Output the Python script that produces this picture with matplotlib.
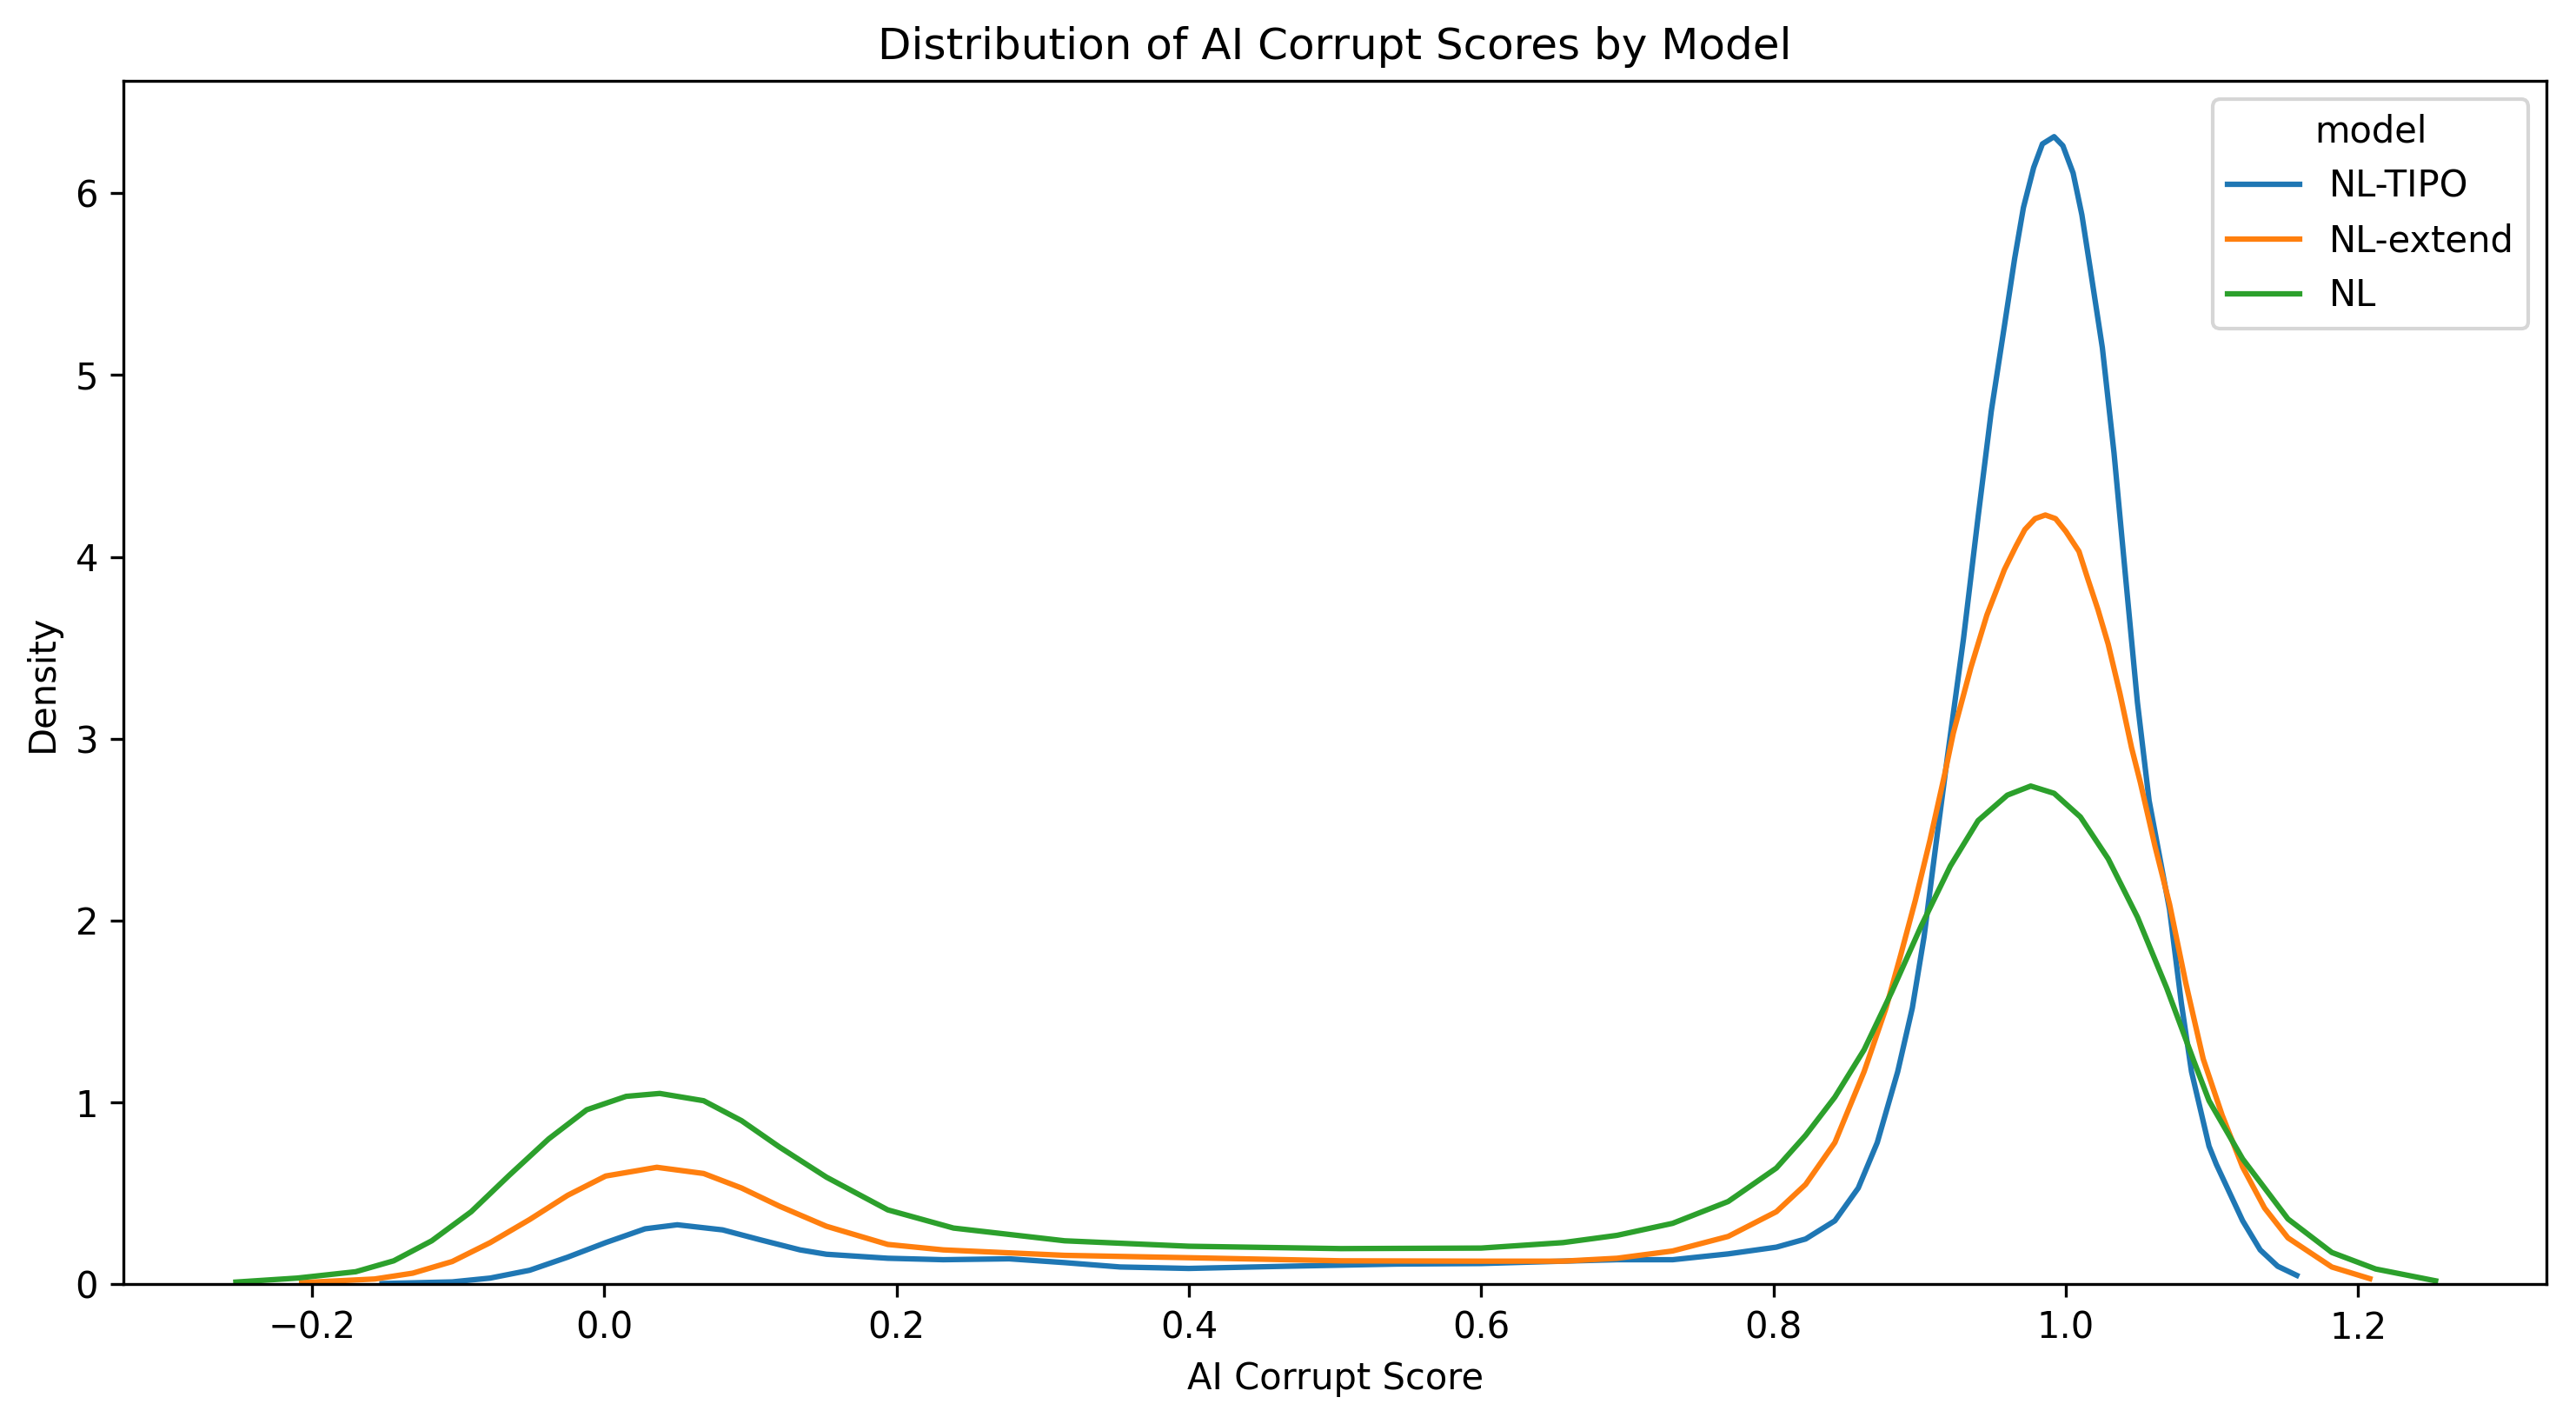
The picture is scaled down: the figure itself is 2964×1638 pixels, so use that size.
import numpy as np
import matplotlib.pyplot as plt

# density values
models = ["NL-TIPO", "NL-extend", "NL"]

tipo_x = [-0.152, -0.104, -0.078, -0.051, -0.025, 0.001, 0.028, 0.050, 0.081, 0.107, 0.134, 0.152,
          0.194, 0.232, 0.277, 0.315, 0.353, 0.40, 0.466, 0.542, 0.60, 0.656, 0.693, 0.731, 0.769,
          0.802, 0.822, 0.842, 0.858, 0.871, 0.885, 0.895, 0.903, 0.911, 0.919, 0.930, 0.940, 0.949,
          0.958, 0.965, 0.971, 0.978, 0.984, 0.992, 0.998, 1.005, 1.011, 1.017, 1.025, 1.033, 1.041,
          1.049, 1.057, 1.071, 1.079, 1.086, 1.098, 1.103, 1.121, 1.133, 1.145, 1.158]
tipo_y = [0.005, 0.014, 0.035, 0.078, 0.15, 0.23, 0.306, 0.328, 0.30, 0.245, 0.19, 0.166,
          0.144, 0.136, 0.141, 0.12, 0.096, 0.088, 0.10, 0.112, 0.115, 0.128, 0.136, 0.136, 0.168,
          0.205, 0.25, 0.35, 0.53, 0.78, 1.17, 1.52, 1.91, 2.41, 2.90, 3.55, 4.22, 4.80,
          5.27, 5.64, 5.92, 6.14, 6.27, 6.31, 6.26, 6.11, 5.88, 5.57, 5.15, 4.57, 3.88,
          3.20, 2.66, 2.06, 1.55, 1.17, 0.76, 0.66, 0.35, 0.19, 0.10, 0.05]

ext_x = [-0.207, -0.157, -0.131, -0.104, -0.078, -0.051, -0.025, 0.001, 0.036, 0.068, 0.094, 0.120,
         0.152, 0.194, 0.232, 0.315, 0.40, 0.504, 0.60, 0.656, 0.693, 0.731, 0.769, 0.802, 0.822,
         0.842, 0.862, 0.877, 0.887, 0.897, 0.907, 0.917, 0.923, 0.935, 0.946, 0.958, 0.966, 0.972,
         0.979, 0.986, 0.993, 1.000, 1.009, 1.015, 1.022, 1.029, 1.037, 1.045, 1.051, 1.061, 1.071,
         1.082, 1.094, 1.107, 1.121, 1.136, 1.152, 1.182, 1.208]
ext_y = [0.01, 0.03, 0.062, 0.126, 0.23, 0.357, 0.49, 0.596, 0.644, 0.61, 0.53, 0.43,
         0.32, 0.22, 0.19, 0.16, 0.147, 0.13, 0.128, 0.128, 0.144, 0.184, 0.264, 0.40, 0.55,
         0.78, 1.17, 1.52, 1.81, 2.11, 2.44, 2.80, 3.03, 3.39, 3.68, 3.93, 4.06, 4.15,
         4.21, 4.23, 4.21, 4.14, 4.03, 3.88, 3.71, 3.52, 3.25, 2.95, 2.76, 2.41, 2.09,
         1.66, 1.24, 0.93, 0.645, 0.42, 0.256, 0.096, 0.032]

nl_x = [-0.252, -0.210, -0.170, -0.144, -0.118, -0.091, -0.065, -0.038, -0.012, 0.015, 0.038, 0.068,
        0.094, 0.120, 0.152, 0.194, 0.239, 0.315, 0.40, 0.504, 0.60, 0.656, 0.693, 0.731, 0.769,
        0.802, 0.822, 0.842, 0.862, 0.881, 0.901, 0.921, 0.940, 0.960, 0.976, 0.992, 1.010, 1.029,
        1.049, 1.069, 1.088, 1.098, 1.121, 1.152, 1.182, 1.212, 1.253]
nl_y = [0.013, 0.035, 0.07, 0.13, 0.24, 0.40, 0.60, 0.80, 0.96, 1.034, 1.05, 1.01,
        0.90, 0.755, 0.59, 0.41, 0.31, 0.24, 0.21, 0.197, 0.20, 0.23, 0.27, 0.336, 0.456,
        0.64, 0.82, 1.03, 1.29, 1.61, 1.97, 2.30, 2.55, 2.69, 2.74, 2.70, 2.57, 2.34,
        2.02, 1.63, 1.22, 1.01, 0.69, 0.36, 0.176, 0.085, 0.02]

fig = plt.figure(figsize=(9.88, 5.46), dpi=300)
ax = fig.add_axes([0.048, 0.098, 0.9405, 0.845])

ax.plot(tipo_x, tipo_y, color="tab:blue", lw=1.5, label=models[0])
ax.plot(ext_x, ext_y, color="tab:orange", lw=1.5, label=models[1])
ax.plot(nl_x, nl_y, color="tab:green", lw=1.5, label=models[2])

ax.set_xlim(-0.3288, 1.3288)
ax.set_ylim(0, 6.615)
ax.set_xticks(np.arange(-0.2, 1.21, 0.2))
ax.set_xlabel("AI Corrupt Score")
ax.set_ylabel("Density")
ax.set_title("Distribution of AI Corrupt Scores by Model")
ax.legend(title="model", loc="upper right")

fig.savefig("out.png", dpi=300)
